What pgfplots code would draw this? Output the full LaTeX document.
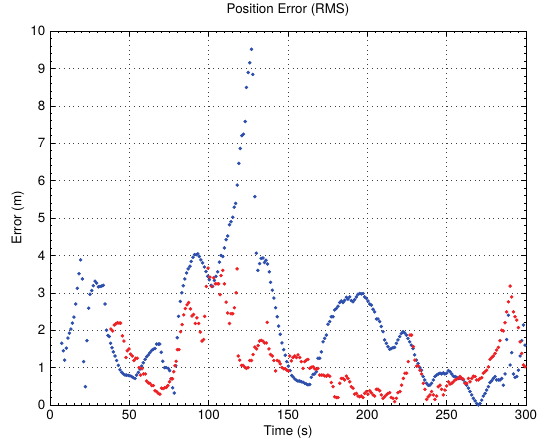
\documentclass[border=0pt]{standalone}
\usepackage{pgfplots}
\pgfplotsset{compat=1.18}
\usepackage{fontspec}
\setmainfont{TeX Gyre Heros}
\definecolor{mblue}{RGB}{44,78,172}
\definecolor{mred}{RGB}{238,32,36}
\begin{document}
\begin{tikzpicture}
\begin{axis}[
  at={(0pt,0pt)}, anchor=south west,
  scale only axis, width=357pt, height=280.5pt,
  xmin=0, xmax=300, ymin=0, ymax=10,
  xtick={0,50,...,300}, ytick={0,1,...,10},
  minor x tick num=9, minor y tick num=4,
  tick align=inside,
  major tick length=3.5pt, minor tick length=1.8pt,
  grid=major,
  major grid style={black!75, line width=0.4pt, dash pattern=on 0.5pt off 3pt},
  axis line style={black, line width=0.5pt},
  tick style={black, line width=0.4pt},
  /pgf/number format/assume math mode=true,
  tick label style={font=\fontsize{10}{12}\selectfont},
  title={Position Error (RMS)},
  xlabel={Time (s)}, ylabel={Error (m)},
  title style={at={(axis description cs:0.5,1.0561)}, anchor=center, yshift=-6pt, font=\fontsize{10}{12}\selectfont},
  xlabel style={at={(axis description cs:0.5,-0.0722)}, anchor=center, font=\fontsize{10}{12}\selectfont},
  ylabel style={at={(axis description cs:-0.0672,0.5)}, anchor=center, font=\fontsize{10}{12}\selectfont},
]
\addplot[only marks, mark=*, mark size=1.1pt, color=mblue] coordinates {
(7.4,1.65)(8.4,1.45)(9.2,1.20)(10.3,1.52)(11.3,1.79)(12.2,1.92)(13.2,2.03)(14.1,2.19)(15.1,2.35)(16.2,2.70)
(17.2,3.12)(18.3,3.51)(19.3,3.88)(20.4,3.37)(21.2,1.16)(22.3,0.49)(23.3,1.72)(24.4,2.59)(25.2,2.96)(26.3,3.06)
(27.3,3.19)(28.4,3.31)(29.4,3.26)(30.5,3.16)(31.5,3.17)(32.6,3.18)(33.6,3.20)(34.7,2.70)(35.6,2.00)(36.5,1.86)
(37.4,1.83)(38.2,1.65)(39.1,1.53)(39.9,1.42)(41.0,1.31)(42.0,1.19)(43.1,1.06)(44.1,0.94)(45.2,0.875)(46.2,0.83)
(47.3,0.80)(48.3,0.80)(49.4,0.79)(50.4,0.78)(51.5,0.76)(52.5,0.73)(53.6,0.71)(54.6,0.80)(55.7,0.87)(56.7,0.96)
(57.8,1.04)(58.8,1.13)(59.9,1.22)(60.9,1.29)(62.0,1.34)(63.0,1.40)(64.1,1.46)(65.1,1.49)(66.2,1.51)(67.2,1.63)
(68.3,1.63)(69.2,1.63)(70.1,1.41)(71.1,1.17)(72.2,1.00)(73.2,1.00)(74.5,0.98)(75.4,0.92)(76.3,0.70)(77.3,0.46)
(78.3,0.32)(79.3,1.05)(80.2,1.80)(81.0,2.37)(82.1,2.77)(83.1,3.00)(84.0,3.19)(85.0,3.37)(86.1,3.53)(87.1,3.64)
(88.2,3.71)(89.0,3.84)(90.1,3.95)(91.1,4.02)(92.2,4.02)(93.2,4.04)(94.1,3.97)(95.1,3.88)(96.2,3.80)(97.3,3.69)
(98.3,3.57)(99.4,3.44)(100.4,3.35)(101.5,3.20)(102.5,3.17)(103.6,3.33)(104.6,3.44)(105.7,3.56)(106.8,3.82)(107.8,4.00)
(108.9,3.97)(109.9,4.20)(111.0,4.42)(112.0,4.52)(113.1,4.82)(114.1,4.90)(115.2,5.02)(116.1,5.29)(117.0,5.39)(118.0,5.88)
(119.0,6.46)(119.9,6.86)(120.9,7.20)(121.9,7.24)(123.0,7.58)(123.8,8.49)(124.9,8.89)(125.9,9.15)(127.0,9.51)(127.8,8.84)
(129.1,5.57)(130.0,4.06)(131.0,3.60)(132.1,3.78)(133.1,3.92)(134.2,3.93)(135.2,3.81)(136.1,3.87)(137.1,3.77)(138.2,3.56)
(139.0,3.28)(140.1,3.07)(141.1,2.86)(142.2,2.60)(143.2,2.36)(144.1,2.11)(145.1,1.89)(146.2,1.66)(147.3,1.48)(148.3,1.33)
(149.2,1.16)(150.2,1.04)(151.3,0.92)(152.3,0.79)(153.2,0.75)(154.2,0.70)(155.3,0.66)(156.3,0.64)(157.4,0.64)(158.4,0.62)
(159.5,0.61)(160.5,0.58)(161.6,0.56)(162.6,0.54)(163.7,0.55)(164.7,0.74)(165.8,0.82)(166.8,0.83)(167.9,0.89)(168.9,1.25)
(170.0,1.25)(171.0,1.42)(172.1,1.69)(173.1,1.78)(174.2,1.87)(175.2,2.16)(176.3,2.23)(177.3,2.36)(178.4,2.36)(179.4,2.54)
(180.5,2.58)(181.5,2.64)(182.6,2.74)(183.6,2.78)(184.7,2.74)(185.7,2.80)(186.8,2.88)(187.8,2.83)(188.9,2.89)(189.9,2.79)
(191.0,2.76)(192.0,2.82)(193.1,2.89)(194.1,2.96)(195.2,2.98)(196.2,2.97)(197.3,2.98)(198.3,2.89)(199.4,2.85)(200.4,2.78)
(201.5,2.70)(202.5,2.67)(203.6,2.56)(204.6,2.49)(205.7,2.30)(206.7,2.30)(207.8,2.23)(208.8,2.10)(209.9,1.96)(210.9,1.74)
(212.0,1.65)(213.0,1.56)(214.1,1.49)(215.1,1.51)(216.2,1.53)(217.2,1.54)(218.3,1.65)(219.3,1.74)(220.4,1.83)(221.4,1.91)
(222.5,1.96)(223.5,1.93)(224.6,1.87)(225.6,1.78)(226.7,1.69)(227.7,1.60)(228.8,1.51)(229.8,1.34)(230.9,1.20)(232.0,1.11)
(233.1,1.00)(234.1,0.93)(235.2,0.76)(236.2,0.67)(237.3,0.58)(238.4,0.53)(239.4,0.53)(240.5,0.58)(241.6,0.67)(242.6,0.76)
(243.7,0.80)(244.7,0.83)(245.8,0.85)(246.8,0.83)(247.9,0.86)(248.9,0.83)(250.0,0.85)(251.1,0.92)(252.1,0.89)(253.2,0.83)
(254.2,0.77)(255.3,0.76)(256.3,0.74)(257.4,0.71)(258.4,0.71)(259.5,0.71)(260.5,0.67)(261.6,0.60)(262.6,0.53)(263.7,0.45)
(264.7,0.36)(265.8,0.27)(266.8,0.18)(267.9,0.11)(268.9,0.04)(270.0,0.00)(271.0,0.04)(272.1,0.13)(273.1,0.24)(274.2,0.31)
(275.2,0.40)(276.3,0.49)(277.3,0.60)(278.4,0.65)(279.4,0.71)(280.5,0.76)(281.5,0.67)(282.6,0.67)(283.6,0.67)(284.7,0.71)
(285.7,0.53)(286.8,0.83)(287.8,1.75)(288.9,2.40)(290.0,1.07)(291.0,1.40)(292.1,0.83)(293.1,0.74)(294.2,0.76)(295.2,0.93)
(296.3,1.31)(297.3,1.72)(298.4,2.14)(299.4,1.60)
};
\addplot[only marks, mark=*, mark size=1.1pt, color=mred] coordinates {
(38.4,2.03)(39.5,1.98)(40.5,2.14)(41.5,2.17)(42.5,2.20)(43.5,2.19)(44.5,2.19)(45.6,1.85)(46.6,1.71)(47.9,1.27)
(48.7,1.45)(49.8,1.50)(50.8,1.36)(51.9,1.31)(52.9,1.19)(54.0,1.25)(55.0,1.25)(56.1,1.00)(57.1,0.80)(58.0,0.97)
(59.0,0.83)(60.1,0.83)(60.9,0.64)(62.0,0.59)(63.0,0.58)(64.1,0.52)(65.1,0.52)(66.2,0.38)(67.2,0.36)(68.3,0.31)
(69.3,0.29)(70.3,0.45)(71.3,0.44)(72.3,0.46)(73.3,0.47)(74.3,0.52)(75.3,0.62)(76.3,0.70)(77.2,0.70)(78.0,0.89)
(78.8,1.05)(79.5,1.17)(80.3,1.48)(81.3,1.48)(82.3,1.96)(83.3,2.15)(84.3,2.41)(85.3,2.58)(86.4,2.68)(87.4,2.74)
(88.5,2.57)(89.5,2.38)(90.5,2.42)(91.6,2.18)(92.6,2.33)(93.7,2.18)(94.7,1.95)(95.8,1.71)(96.8,1.75)(97.5,2.37)
(98.5,3.17)(99.6,3.66)(100.8,3.42)(101.9,3.17)(103.2,3.40)(104.2,3.24)(105.3,3.24)(106.3,3.24)(107.2,2.95)(107.8,3.46)
(108.9,3.60)(109.9,3.24)(111.0,2.75)(112.0,2.46)(113.1,2.18)(114.1,2.44)(115.2,2.44)(116.2,2.60)(117.3,3.00)(117.9,3.64)
(118.6,1.31)(119.6,1.20)(120.7,1.06)(121.7,1.06)(122.8,1.01)(123.8,0.98)(124.9,1.00)(125.9,1.19)(127.0,1.19)(128.0,1.35)
(129.1,1.55)(130.2,1.50)(131.2,1.59)(132.1,1.71)(133.1,1.73)(134.2,1.71)(135.2,1.66)(136.3,1.66)(136.9,2.21)(138.0,1.50)
(139.0,1.35)(140.1,1.31)(141.1,1.19)(142.2,0.91)(143.2,1.19)(144.3,1.17)(145.1,1.10)(146.2,1.00)(147.3,0.97)(148.3,0.97)
(149.4,0.93)(150.2,0.91)(151.1,1.31)(152.1,1.18)(153.2,1.27)(154.2,1.31)(155.3,1.27)(156.3,1.34)(157.4,1.27)(158.4,1.16)
(159.5,0.98)(160.5,1.16)(161.6,1.20)(162.6,1.22)(163.7,0.98)(164.7,1.01)(165.8,1.02)(166.8,0.97)(167.9,0.95)(168.9,0.98)
(170.0,0.80)(171.0,0.80)(172.1,0.80)(173.1,0.78)(174.2,0.77)(175.2,0.80)(176.3,0.77)(177.3,0.60)(178.4,0.49)(179.4,0.22)
(180.5,0.20)(181.5,0.20)(182.6,0.58)(183.6,0.71)(184.7,0.71)(185.7,0.67)(186.8,0.77)(187.8,0.71)(188.9,0.62)(189.9,0.49)
(191.0,0.45)(192.0,0.29)(193.1,0.31)(194.1,0.24)(195.2,0.22)(196.2,0.24)(197.3,0.20)(198.3,0.31)(199.4,0.36)(200.4,0.29)
(201.5,0.38)(202.5,0.33)(203.6,0.27)(204.6,0.24)(205.7,0.42)(206.7,0.42)(207.8,0.38)(208.8,0.27)(209.9,0.18)(210.9,0.22)
(212.0,0.27)(213.0,0.31)(214.1,0.33)(215.1,0.20)(216.2,0.18)(217.2,0.09)(218.3,0.18)(219.3,0.33)(220.6,0.36)(221.6,0.53)
(222.7,0.71)(223.7,0.85)(224.8,0.85)(225.8,1.16)(226.9,1.87)(227.9,1.87)(229.0,1.56)(230.0,1.20)(231.1,1.04)(232.1,1.04)
(233.2,0.93)(234.2,0.83)(235.3,0.58)(236.3,0.42)(237.4,0.15)(238.4,0.22)(239.5,0.27)(240.5,0.36)(241.6,0.27)(242.6,0.15)
(243.7,0.24)(244.7,0.49)(245.8,0.53)(246.8,0.42)(247.9,0.27)(248.9,0.40)(250.0,0.51)(251.1,0.62)(252.1,0.56)(253.2,0.58)
(254.2,0.62)(255.3,0.67)(256.3,0.69)(257.4,0.71)(258.4,0.76)(259.5,0.71)(260.5,0.69)(261.6,0.58)(262.6,0.58)(263.7,0.71)
(264.7,0.62)(265.8,0.71)(266.8,0.77)(267.9,0.76)(268.9,0.67)(270.0,0.67)(271.0,0.71)(272.1,0.73)(273.1,0.85)(274.2,0.89)
(275.2,0.93)(276.3,1.02)(277.3,1.22)(278.4,1.27)(279.4,1.31)(280.5,1.38)(281.5,1.47)(282.6,1.54)(283.6,1.72)(284.7,2.00)
(285.7,1.98)(286.8,2.20)(287.8,2.49)(288.9,2.76)(290.0,3.18)(291.0,2.89)(292.1,2.49)(293.1,2.36)(294.2,2.27)(295.2,2.07)
(296.3,1.69)(297.3,1.38)(298.4,1.07)(299.4,1.02)
};
\end{axis}
\pgfresetboundingbox
\path[use as bounding box] (-37.5pt,-27.75pt) rectangle (366pt,303.75pt);
\end{tikzpicture}
\end{document}
